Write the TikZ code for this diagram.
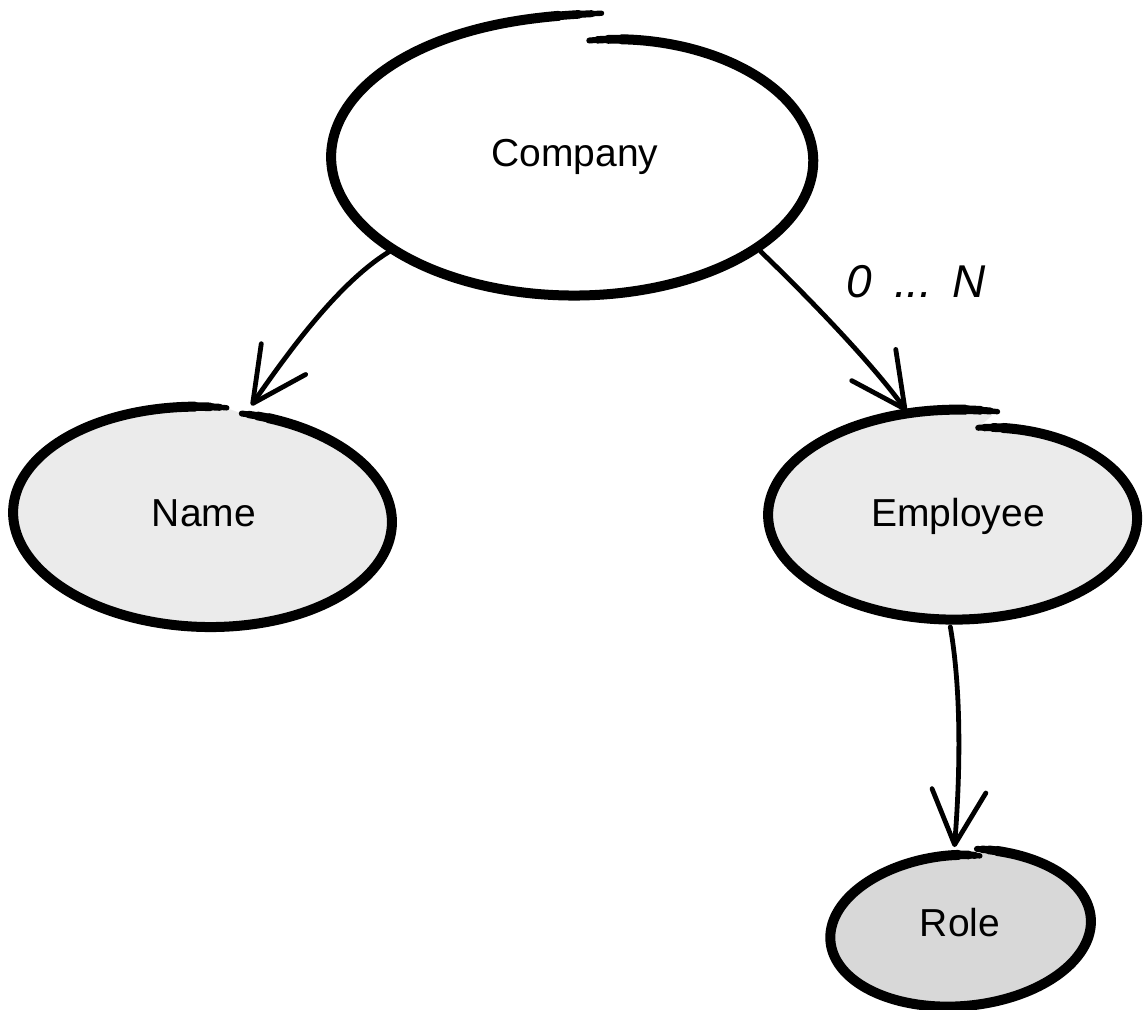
\documentclass[tikz,border=0pt]{standalone}
\usepackage{fontspec}
\setmainfont{Liberation Sans}
\usetikzlibrary{arrows.meta,shapes.geometric}
\definecolor{paleGray}{HTML}{EBEBEB}
\definecolor{midGray}{HTML}{D8D8D8}

% A brush loop: a tilted ellipse traced clockwise as a slight spiral, so the
% stroke starts at one radius and finishes at another, leaving the pen gap on top.
% Radius scale along the stroke (\s runs from 0 to 1):
\newcommand{\loopf}{(1-(1-\pfs)*exp(-8*\s)+(\pfe-1)*exp(30*(\s-1)))}
\newcommand{\loopx}{\pcx + \loopf*(\prx*cos(\pta-\psw*\s)*cos(\ptilt) - \pry*sin(\pta-\psw*\s)*sin(\ptilt))}
\newcommand{\loopy}{\pcy - \loopf*(\prx*cos(\pta-\psw*\s)*sin(\ptilt) + \pry*sin(\pta-\psw*\s)*cos(\ptilt))}
\newcommand{\looppiece}[3]{%
  \draw[brush, line width=#2] plot[domain=#1, samples=#3, smooth, variable=\s] ({\loopx},{\loopy});}
% #1 fill, #2 cx, #3 cy, #4 rx, #5 ry, #6 tilt, #7 start angle, #8 sweep,
% #9 radius scale at the start; radius scale at the end is \endscale.
\newcommand{\brushshape}[9]{%
  \def\pcx{#2}\def\pcy{#3}\def\prx{#4}\def\pry{#5}\def\ptilt{#6}%
  \def\pta{#7}\def\psw{#8}\def\pfs{#9}\let\pfe\endscale
  \fill[#1] plot[domain=0:1, samples=200, smooth, variable=\s] ({\loopx},{\loopy}) -- cycle;
  % tapered ends, full width in between
  \looppiece{0:0.010}{3.0pt}{6}
  \looppiece{0.006:0.018}{3.7pt}{8}
  \looppiece{0.014:0.028}{4.4pt}{8}
  \looppiece{0.024:0.976}{5pt}{220}
  \looppiece{0.972:0.986}{4.3pt}{8}
  \looppiece{0.982:0.994}{3.5pt}{8}
  \looppiece{0.990:1}{2.7pt}{6}}

\begin{document}
\begin{tikzpicture}[x=0.5pt,y=-0.5pt,
  entity/.style={ellipse, inner sep=0pt, outer sep=0pt, text height=14pt, text depth=4.1pt,
                 font=\fontsize{19.5}{23}\selectfont},
  brush/.style={line cap=round, line join=round},
  conn/.style={line width=2.4pt, line cap=round,
               -{Straight Barb[length=27pt,width=27pt,line cap=round,line join=round]}},
  cardinality/.style={font=\fontsize{23}{26}\selectfont\itshape}]
\useasboundingbox (0,0) rectangle (1146,1010);

% outlines
\def\endscale{1.04}
\brushshape{white}{575}{157}{244}{139}{0}{86}{362}{0.84}
\def\endscale{1.005}
\brushshape{paleGray}{203}{517}{190}{110}{-2}{79}{355}{0.97}
\def\endscale{1.01}
\brushshape{paleGray}{955}{515}{187}{105}{0}{81.5}{364.5}{0.84}
\def\endscale{0.97}
\brushshape{midGray}{960}{930}{130}{76}{5}{80}{362}{1.06}

% entities
\node[entity, minimum width=248pt, minimum height=143pt] (company)  at (575,157) {Company};
\node[entity, minimum width=195pt, minimum height=115pt] (name)     at (204,517) {Name};
\node[entity, minimum width=192pt, minimum height=110pt] (employee) at (958,517) {Employee};
\node[entity, minimum width=135pt, minimum height=80pt]  (role)     at (960,927) {Role};

% relationships
\draw[conn] (company.207) .. controls (338,283) and (287,354) .. (name.67);
\draw[conn] (company.-27) .. controls (804,293) and (873,364) .. (employee.116);
\draw[conn] (employee.266) .. controls (963,700) and (959,790) .. (role.94);

\node[cardinality] (card) at (916,282) {0\hspace{11pt}...\hspace{10pt}N};
\end{tikzpicture}
\end{document}
